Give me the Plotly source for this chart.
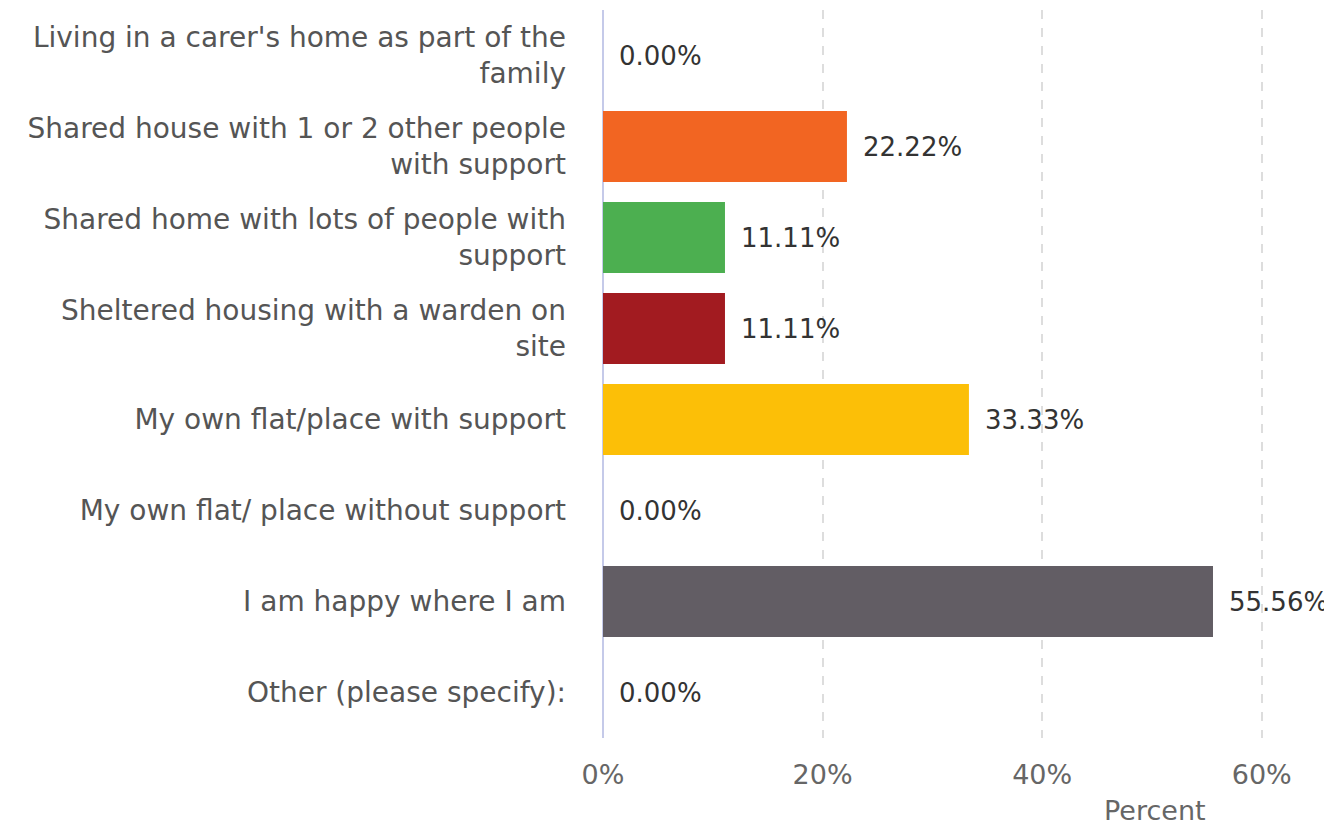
import plotly.graph_objects as go

categories = [
    "Living in a carer's home as part of the<br>family",
    "Shared house with 1 or 2 other people<br>with support",
    "Shared home with lots of people with<br>support",
    "Sheltered housing with a warden on<br>site",
    "My own flat/place with support",
    "My own flat/ place without support",
    "I am happy where I am",
    "Other (please specify):",
]
values = [0.00, 22.22, 11.11, 11.11, 33.33, 0.00, 55.56, 0.00]
colors = ["#3F6FB5", "#F26522", "#4CAF50", "#A21B20", "#FCBF07", "#2E86C1", "#625D64", "#9E9E9E"]
tick_vals = [0, 20, 40, 60]
tick_text = ["0%", "20%", "40%", "60%"]

fig = go.Figure()
fig.add_trace(go.Bar(
    x=values, y=categories, orientation="h",
    marker=dict(color=colors, line=dict(width=0)),
    hoverinfo="skip",
))

for v, c in zip(values, categories):
    fig.add_annotation(
        x=v, y=c, xref="x", yref="y", text=f"{v:.2f}%",
        showarrow=False, xanchor="left", yanchor="middle", xshift=14,
        font=dict(family="DejaVu Sans", size=26, color="#333333"),
    )

fig.add_annotation(
    x=0.757, y=-0.1, xref="paper", yref="paper", text="Percent",
    showarrow=False, xanchor="center", yanchor="middle", borderpad=0,
    font=dict(family="DejaVu Sans", size=27, color="#666666"),
)

fig.update_layout(
    width=1324, height=819,
    margin=dict(l=595, r=0, t=2, b=89),
    paper_bgcolor="white", plot_bgcolor="white",
    bargap=0.22, showlegend=False,
    font=dict(family="DejaVu Sans", color="#666666"),
)
fig.update_xaxes(
    range=[0, 66.4], tickvals=tick_vals, ticktext=tick_text,
    showgrid=True, gridcolor="#dddddd", griddash="dash", gridwidth=1.5,
    zeroline=True, zerolinecolor="#c5cae9", zerolinewidth=2,
    showline=False, ticks="", ticklabelstandoff=18,
    tickfont=dict(family="DejaVu Sans", size=27, color="#666666"),
)
fig.update_yaxes(
    autorange="reversed", showgrid=False, showline=False, ticks="",
    ticklabelstandoff=36,
    tickfont=dict(family="DejaVu Sans", size=28, color="#555555"),
)

fig.write_html("out.html")
